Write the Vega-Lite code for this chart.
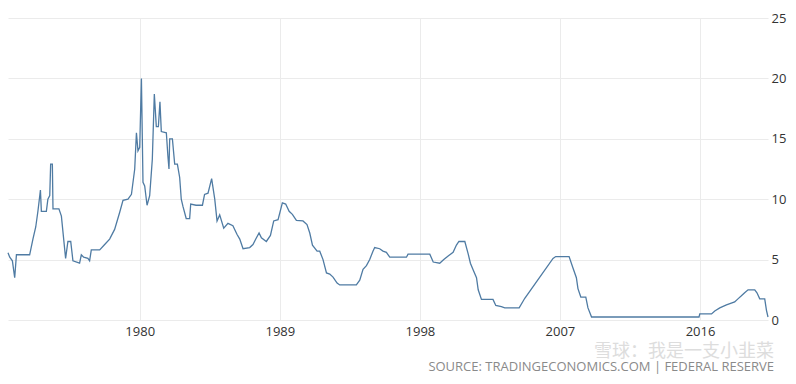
{
  "$schema": "https://vega.github.io/schema/vega-lite/v6.json",
  "width": 760,
  "height": 302,
  "autosize": {"type": "none"},
  "padding": {"left": 8, "top": 18, "right": 28, "bottom": 64},
  "background": "white",
  "title": {
    "text": "雪球：我是一支小韭菜",
    "subtitle": "SOURCE: TRADINGECONOMICS.COM | FEDERAL RESERVE",
    "orient": "bottom",
    "anchor": "end",
    "frame": "group",
    "font": "Noto Sans CJK SC",
    "fontSize": 18,
    "fontWeight": "normal",
    "color": "#dddddd",
    "subtitleFont": "Open Sans",
    "subtitleFontSize": 13,
    "subtitleColor": "#8a8a8a",
    "subtitlePadding": 0,
    "offset": 5,
    "dx": 6
  },
  "data": {
    "values": [
      {"date": "1971-07-16", "rate": 5.56},
      {"date": "1971-08-26", "rate": 5.2},
      {"date": "1971-10-27", "rate": 4.9},
      {"date": "1971-12-20", "rate": 3.5},
      {"date": "1972-01-30", "rate": 5.4},
      {"date": "1972-12-05", "rate": 5.4},
      {"date": "1973-02-20", "rate": 6.7},
      {"date": "1973-04-27", "rate": 7.7},
      {"date": "1973-06-17", "rate": 9.0},
      {"date": "1973-08-15", "rate": 10.75},
      {"date": "1973-09-06", "rate": 9.0},
      {"date": "1974-01-01", "rate": 9.0},
      {"date": "1974-02-06", "rate": 10.0},
      {"date": "1974-03-22", "rate": 10.3},
      {"date": "1974-04-12", "rate": 12.9},
      {"date": "1974-05-22", "rate": 12.9},
      {"date": "1974-06-06", "rate": 9.2},
      {"date": "1974-10-23", "rate": 9.2},
      {"date": "1974-12-20", "rate": 8.6},
      {"date": "1975-03-29", "rate": 5.1},
      {"date": "1975-05-22", "rate": 6.5},
      {"date": "1975-07-27", "rate": 6.5},
      {"date": "1975-09-17", "rate": 4.9},
      {"date": "1976-02-20", "rate": 4.7},
      {"date": "1976-04-01", "rate": 5.4},
      {"date": "1976-05-26", "rate": 5.2},
      {"date": "1976-09-02", "rate": 5.1},
      {"date": "1976-10-12", "rate": 4.9},
      {"date": "1976-11-21", "rate": 5.8},
      {"date": "1977-06-06", "rate": 5.8},
      {"date": "1977-10-01", "rate": 6.25},
      {"date": "1978-01-25", "rate": 6.7},
      {"date": "1978-05-22", "rate": 7.5},
      {"date": "1978-09-17", "rate": 8.9},
      {"date": "1978-12-05", "rate": 9.9},
      {"date": "1979-04-01", "rate": 10.0},
      {"date": "1979-06-21", "rate": 10.4},
      {"date": "1979-09-06", "rate": 12.5},
      {"date": "1979-10-16", "rate": 15.5},
      {"date": "1979-11-21", "rate": 14.0},
      {"date": "1980-01-01", "rate": 14.3},
      {"date": "1980-02-10", "rate": 20.0},
      {"date": "1980-03-18", "rate": 11.4},
      {"date": "1980-04-27", "rate": 11.1},
      {"date": "1980-06-21", "rate": 9.5},
      {"date": "1980-08-22", "rate": 10.3},
      {"date": "1980-10-23", "rate": 13.3},
      {"date": "1980-12-09", "rate": 18.7},
      {"date": "1981-01-25", "rate": 16.0},
      {"date": "1981-03-14", "rate": 16.0},
      {"date": "1981-04-20", "rate": 18.06},
      {"date": "1981-05-22", "rate": 15.6},
      {"date": "1981-09-17", "rate": 15.5},
      {"date": "1981-10-23", "rate": 13.6},
      {"date": "1981-11-18", "rate": 12.5},
      {"date": "1981-12-05", "rate": 15.0},
      {"date": "1982-02-06", "rate": 15.0},
      {"date": "1982-04-01", "rate": 12.9},
      {"date": "1982-06-03", "rate": 12.9},
      {"date": "1982-07-27", "rate": 11.8},
      {"date": "1982-09-02", "rate": 10.0},
      {"date": "1982-10-12", "rate": 9.4},
      {"date": "1982-12-27", "rate": 8.4},
      {"date": "1983-03-18", "rate": 8.4},
      {"date": "1983-04-12", "rate": 9.6},
      {"date": "1983-08-15", "rate": 9.5},
      {"date": "1984-01-12", "rate": 9.5},
      {"date": "1984-03-02", "rate": 10.4},
      {"date": "1984-05-22", "rate": 10.5},
      {"date": "1984-08-15", "rate": 11.7},
      {"date": "1984-10-27", "rate": 10.0},
      {"date": "1984-12-20", "rate": 8.2},
      {"date": "1985-02-20", "rate": 8.7},
      {"date": "1985-05-26", "rate": 7.6},
      {"date": "1985-09-02", "rate": 8.0},
      {"date": "1985-12-27", "rate": 7.8},
      {"date": "1986-04-01", "rate": 7.1},
      {"date": "1986-06-06", "rate": 6.7},
      {"date": "1986-08-22", "rate": 5.9},
      {"date": "1987-01-25", "rate": 6.0},
      {"date": "1987-04-12", "rate": 6.25},
      {"date": "1987-06-17", "rate": 6.7},
      {"date": "1987-09-02", "rate": 7.2},
      {"date": "1987-10-27", "rate": 6.8},
      {"date": "1988-02-20", "rate": 6.5},
      {"date": "1988-05-26", "rate": 7.0},
      {"date": "1988-08-11", "rate": 8.2},
      {"date": "1988-11-21", "rate": 8.3},
      {"date": "1989-03-02", "rate": 9.7},
      {"date": "1989-05-19", "rate": 9.6},
      {"date": "1989-08-08", "rate": 9.0},
      {"date": "1989-10-23", "rate": 8.75},
      {"date": "1990-01-25", "rate": 8.25},
      {"date": "1990-06-28", "rate": 8.2},
      {"date": "1990-10-01", "rate": 7.9},
      {"date": "1990-12-05", "rate": 7.2},
      {"date": "1991-02-06", "rate": 6.2},
      {"date": "1991-05-26", "rate": 5.7},
      {"date": "1991-07-27", "rate": 5.7},
      {"date": "1991-10-12", "rate": 5.0},
      {"date": "1992-01-01", "rate": 3.9},
      {"date": "1992-03-18", "rate": 3.8},
      {"date": "1992-06-03", "rate": 3.55},
      {"date": "1992-09-06", "rate": 3.06},
      {"date": "1992-11-07", "rate": 2.9},
      {"date": "1993-12-02", "rate": 2.9},
      {"date": "1994-02-20", "rate": 3.3},
      {"date": "1994-05-08", "rate": 4.2},
      {"date": "1994-07-27", "rate": 4.5},
      {"date": "1994-10-12", "rate": 5.0},
      {"date": "1994-12-27", "rate": 5.7},
      {"date": "1995-02-06", "rate": 6.0},
      {"date": "1995-06-03", "rate": 5.9},
      {"date": "1995-08-19", "rate": 5.7},
      {"date": "1995-11-07", "rate": 5.6},
      {"date": "1996-01-25", "rate": 5.2},
      {"date": "1997-02-20", "rate": 5.2},
      {"date": "1997-03-29", "rate": 5.45},
      {"date": "1998-08-22", "rate": 5.45},
      {"date": "1998-11-10", "rate": 4.8},
      {"date": "1999-04-12", "rate": 4.7},
      {"date": "1999-07-16", "rate": 5.0},
      {"date": "1999-10-27", "rate": 5.3},
      {"date": "2000-02-20", "rate": 5.6},
      {"date": "2000-05-08", "rate": 6.2},
      {"date": "2000-07-05", "rate": 6.5},
      {"date": "2000-11-21", "rate": 6.5},
      {"date": "2001-02-06", "rate": 5.5},
      {"date": "2001-04-01", "rate": 4.7},
      {"date": "2001-05-29", "rate": 4.2},
      {"date": "2001-08-22", "rate": 3.5},
      {"date": "2001-10-01", "rate": 2.5},
      {"date": "2001-12-16", "rate": 1.7},
      {"date": "2002-09-13", "rate": 1.7},
      {"date": "2002-11-18", "rate": 1.2},
      {"date": "2003-03-29", "rate": 1.1},
      {"date": "2003-06-17", "rate": 1.0},
      {"date": "2004-05-19", "rate": 1.0},
      {"date": "2004-09-28", "rate": 1.8},
      {"date": "2006-07-23", "rate": 5.1},
      {"date": "2006-09-24", "rate": 5.25},
      {"date": "2007-08-04", "rate": 5.25},
      {"date": "2007-11-03", "rate": 4.3},
      {"date": "2008-01-22", "rate": 3.5},
      {"date": "2008-02-28", "rate": 2.6},
      {"date": "2008-05-05", "rate": 1.9},
      {"date": "2008-08-30", "rate": 1.9},
      {"date": "2008-10-20", "rate": 1.0},
      {"date": "2009-01-12", "rate": 0.25},
      {"date": "2015-12-09", "rate": 0.25},
      {"date": "2015-12-27", "rate": 0.5},
      {"date": "2016-09-28", "rate": 0.5},
      {"date": "2016-12-13", "rate": 0.75},
      {"date": "2017-04-09", "rate": 1.0},
      {"date": "2017-09-13", "rate": 1.25},
      {"date": "2018-03-25", "rate": 1.5},
      {"date": "2018-06-10", "rate": 1.75},
      {"date": "2018-08-30", "rate": 2.0},
      {"date": "2018-11-14", "rate": 2.25},
      {"date": "2019-02-02", "rate": 2.5},
      {"date": "2019-07-09", "rate": 2.5},
      {"date": "2019-08-30", "rate": 2.25},
      {"date": "2019-11-03", "rate": 1.75},
      {"date": "2020-02-28", "rate": 1.75},
      {"date": "2020-04-09", "rate": 0.8},
      {"date": "2020-05-15", "rate": 0.25}
    ]
  },
  "mark": {"type": "line", "color": "#4f7ba3", "strokeWidth": 1.3, "interpolate": "linear"},
  "encoding": {
    "x": {
      "field": "date",
      "type": "temporal",
      "scale": {"nice": false},
      "axis": {
        "title": null,
        "values": [{"year": 1980}, {"year": 1989}, {"year": 1998}, {"year": 2007}, {"year": 2016}],
        "format": "%Y",
        "ticks": false,
        "domain": false,
        "grid": true,
        "gridColor": "#ebebeb",
        "labelFont": "Open Sans",
        "labelFontSize": 13,
        "labelColor": "#333333",
        "labelPadding": 5,
        "labelFlush": false
      }
    },
    "y": {
      "field": "rate",
      "type": "quantitative",
      "scale": {"domain": [0, 25], "nice": false},
      "axis": {
        "title": null,
        "orient": "right",
        "values": [0, 5, 10, 15, 20, 25],
        "ticks": false,
        "domain": false,
        "grid": true,
        "gridColor": "#ebebeb",
        "labelFont": "Open Sans",
        "labelFontSize": 13,
        "labelColor": "#333333",
        "labelPadding": 3,
        "labelFlush": false
      }
    }
  },
  "config": {"view": {"stroke": null}}
}
